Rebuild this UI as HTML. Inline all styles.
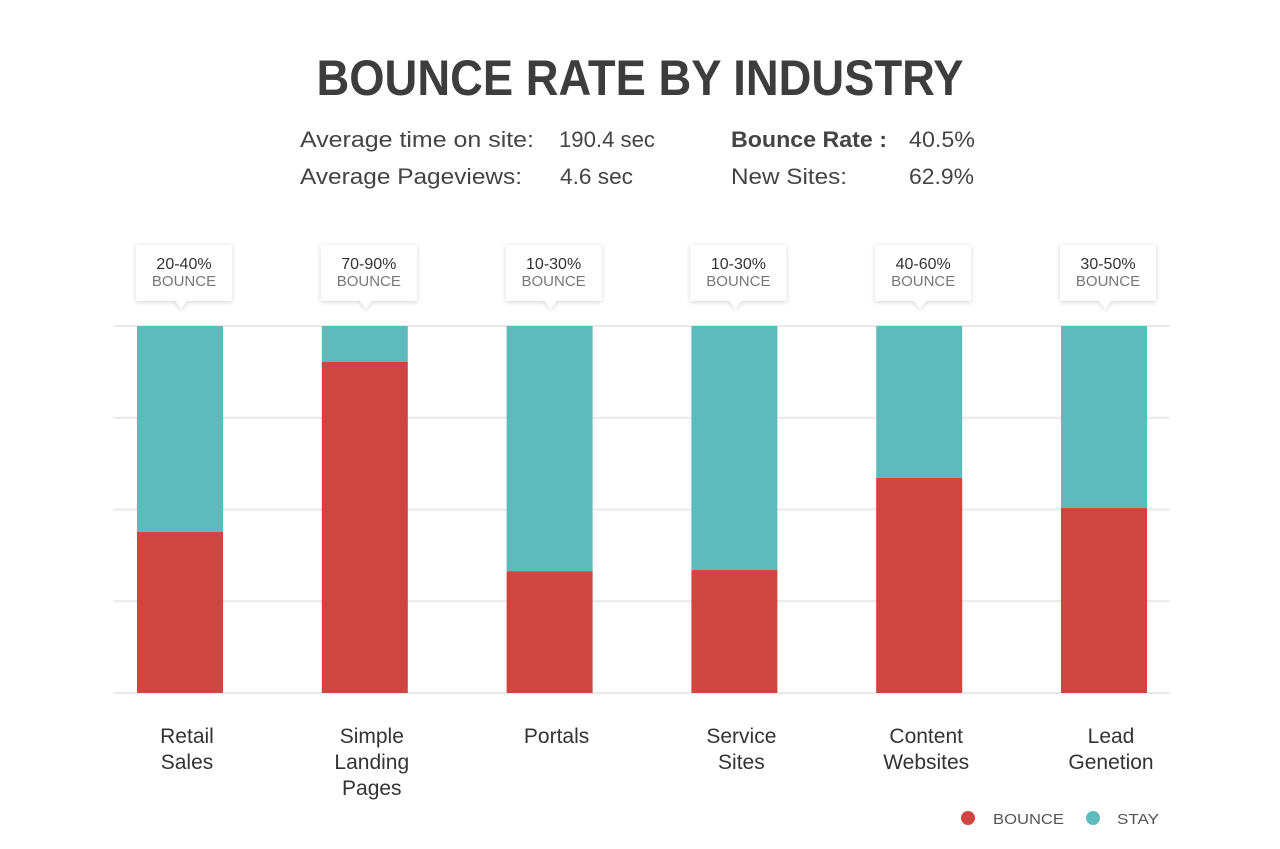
<!DOCTYPE html>
<html><head><meta charset="utf-8"><style>
html,body{margin:0;padding:0;background:#fff;}
svg{display:block;font-family:"Liberation Sans",sans-serif;}
</style></head><body>
<svg id="chart" width="1280" height="849" viewBox="0 0 1280 849">
<defs><filter id="sh" x="-20%" y="-20%" width="140%" height="150%"><feDropShadow dx="0" dy="1" stdDeviation="2.5" flood-color="#000" flood-opacity="0.18"/></filter></defs>
<text x="640" y="95" text-anchor="middle" font-size="50" font-weight="bold" fill="#3d3d3d" textLength="647" lengthAdjust="spacingAndGlyphs">BOUNCE RATE BY INDUSTRY</text>
<g font-size="22" fill="#444">
<text x="300" y="147" textLength="234" lengthAdjust="spacingAndGlyphs">Average time on site:</text>
<text x="559" y="147" textLength="96" lengthAdjust="spacingAndGlyphs">190.4 sec</text>
<text x="300" y="184" textLength="222" lengthAdjust="spacingAndGlyphs">Average Pageviews:</text>
<text x="560" y="184" textLength="73" lengthAdjust="spacingAndGlyphs">4.6 sec</text>
<text x="731" y="147" font-weight="bold" textLength="156" lengthAdjust="spacingAndGlyphs">Bounce Rate :</text>
<text x="909" y="147" textLength="66" lengthAdjust="spacingAndGlyphs">40.5%</text>
<text x="731" y="184" textLength="116" lengthAdjust="spacingAndGlyphs">New Sites:</text>
<text x="909" y="184" textLength="65" lengthAdjust="spacingAndGlyphs">62.9%</text>
</g>
<g id="grid"></g><g id="bars"></g><g id="tips"></g><g id="cats"></g>
<g font-size="15" fill="#555">
<circle cx="968" cy="818" r="7" fill="#cf4641"/>
<text x="993" y="824" textLength="71" lengthAdjust="spacingAndGlyphs">BOUNCE</text>
<circle cx="1093" cy="818" r="7" fill="#5dbbbb"/>
<text x="1117" y="824" textLength="42" lengthAdjust="spacingAndGlyphs">STAY</text>
</g>
</svg>
<script>
const categories = [["Retail","Sales"],["Simple","Landing","Pages"],["Portals"],["Service","Sites"],["Content","Websites"],["Lead","Genetion"]];
const bounceValues = [43.9, 90.2, 33.2, 33.5, 58.6, 50.4];
const rangeLabels = ["20-40%","70-90%","10-30%","10-30%","40-60%","30-50%"];
const gridTicks = [0, 25, 50, 75, 100];
const NS = "http://www.w3.org/2000/svg";
const y0 = 693, y1 = 326, left = 113, right = 1170;
const yScale = v => y0 - (v/100)*(y0-y1);
const xCenter = i => 180 + i*184.8;
const barW = 86;
function mk(tag, attrs, parent){const e=document.createElementNS(NS,tag);for(const k in attrs)e.setAttribute(k,attrs[k]);parent.appendChild(e);return e;}
const grid=document.getElementById('grid'),bars=document.getElementById('bars'),tips=document.getElementById('tips'),cats=document.getElementById('cats');
gridTicks.forEach(t=>{const l=mk('line',{x1:left,x2:right,y1:yScale(t),y2:yScale(t),stroke:'#e9e9e9','stroke-width':2},grid);

});
bounceValues.forEach((v,i)=>{
const cx=xCenter(i),x=cx-barW/2;
const s=mk('rect',{x:x,y:y1,width:barW,height:yScale(v)-y1,fill:'#5dbbbb'},bars);


const b=mk('rect',{x:x,y:yScale(v),width:barW,height:y0-yScale(v),fill:'#cf4641'},bars);


const tx=cx+4;
const g=mk('g',{},tips);


mk('path',{d:`M${tx-48},245 h96 v56 h-45 l-6,8 l-6,-8 h-39 z`,fill:'#fff',filter:'url(#sh)'},g);
const t1=mk('text',{x:tx,y:269,'text-anchor':'middle','font-size':16,fill:'#333'},g);t1.textContent=rangeLabels[i];
const t2=mk('text',{x:tx,y:286,'text-anchor':'middle','font-size':15,fill:'#777'},g);t2.textContent='BOUNCE';
const c=mk('text',{x:cx+7,y:743,'text-anchor':'middle','font-size':21,fill:'#333'},cats);


categories[i].forEach((ln,j)=>{const ts=mk('tspan',{x:cx+7,y:743+j*26},c);ts.textContent=ln;});
});
</script>
</body></html>
